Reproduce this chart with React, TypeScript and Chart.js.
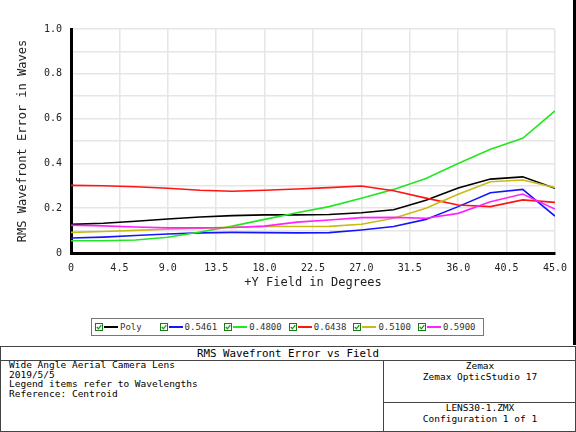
import React, { useEffect, useRef } from 'react';
import { Chart, registerables } from 'chart.js';
Chart.register(...registerables);

const fieldDeg = [0, 3, 6, 9, 12, 15, 18, 21, 24, 27, 30, 33, 36, 39, 42, 45];
const polyVals = [0.128, 0.133, 0.142, 0.152, 0.161, 0.167, 0.170, 0.170, 0.172, 0.180, 0.193, 0.235, 0.290, 0.330, 0.340, 0.289];
const w5461Vals = [0.067, 0.071, 0.078, 0.085, 0.090, 0.092, 0.091, 0.090, 0.091, 0.103, 0.118, 0.150, 0.207, 0.269, 0.284, 0.165];
const w4800Vals = [0.055, 0.055, 0.058, 0.070, 0.094, 0.120, 0.150, 0.180, 0.207, 0.244, 0.284, 0.333, 0.400, 0.463, 0.512, 0.634];
const w6438Vals = [0.302, 0.300, 0.296, 0.289, 0.280, 0.276, 0.280, 0.286, 0.292, 0.299, 0.278, 0.245, 0.214, 0.207, 0.237, 0.226];
const w5100Vals = [0.092, 0.096, 0.101, 0.106, 0.111, 0.115, 0.118, 0.118, 0.119, 0.128, 0.155, 0.200, 0.262, 0.318, 0.326, 0.292];
const w5900Vals = [0.124, 0.121, 0.116, 0.112, 0.112, 0.114, 0.120, 0.138, 0.147, 0.158, 0.159, 0.155, 0.177, 0.229, 0.263, 0.196];

const seriesLabels = ['Poly', '0.5461', '0.4800', '0.6438', '0.5100', '0.5900'];
const seriesValues = [polyVals, w5461Vals, w4800Vals, w6438Vals, w5100Vals, w5900Vals];
const seriesColors = ['#000000', '#1414ff', '#22e622', '#ff1414', '#c8bc14', '#ff22ff'];

const xAxisTitle = '+Y Field in Degrees';
const yAxisTitle = 'RMS Wavefront Error in Waves';
const plotTitle = 'RMS Wavefront Error vs Field';
const infoLeft = ['Wide Angle Aerial Camera Lens', '2019/5/5', 'Legend items refer to Wavelengths', 'Reference: Centroid'];
const infoRightTop = ['Zemax', 'Zemax OpticStudio 17'];
const infoRightBottom = ['LENS30-1.ZMX', 'Configuration 1 of 1'];

const MONO = "'DejaVu Sans Mono', monospace";

function CheckBox() {
  return (
    <svg width="8" height="8" style={{ display: 'block', flex: 'none' }}>
      <rect x="0.5" y="0.5" width="7" height="7" fill="#fff" stroke="#1a7a1a" strokeWidth="1" />
      <polyline points="1.8,4 3.4,5.8 6.3,2.2" fill="none" stroke="#1a9a1a" strokeWidth="1.3" />
    </svg>
  );
}

export default function App() {
  const canvasRef = useRef<HTMLCanvasElement | null>(null);

  useEffect(() => {
    document.body.style.margin = '0';
    const canvas = canvasRef.current;
    if (!canvas) return;
    const datasets = seriesLabels.map((label, i) => ({
      label,
      data: fieldDeg.map((x, j) => ({ x, y: seriesValues[i][j] })),
      borderColor: seriesColors[i],
      backgroundColor: seriesColors[i],
      borderWidth: 1.6,
      pointRadius: 0,
      tension: 0,
      fill: false,
    }));
    const chart = new Chart(canvas, {
      type: 'line',
      data: { datasets: datasets.slice().reverse() },
      options: {
        animation: false,
        responsive: false,
        layout: { padding: { top: 29, right: 21, bottom: 0, left: 0 } },
        plugins: { legend: { display: false }, tooltip: { enabled: false } },
        scales: {
          x: {
            type: 'linear',
            min: 0,
            max: 45,
            afterFit: (s: any) => { s.height = 47; },
            ticks: {
              stepSize: 4.5,
              autoSkip: false,
              maxRotation: 0,
              padding: 9,
              color: '#222',
              font: { family: MONO, size: 10 },
              callback: (v: any) => (Number(v) === 0 ? '0' : Number(v).toFixed(1)),
            },
            grid: { color: '#e6e6e6', lineWidth: 1.5, drawTicks: false },
            border: { display: true, color: '#000', width: 3 },
            title: {
              display: true,
              text: xAxisTitle,
              color: '#222',
              font: { family: MONO, size: 12 },
              padding: { top: 0, bottom: 10 },
            },
          },
          y: {
            type: 'linear',
            min: 0,
            max: 1,
            afterFit: (s: any) => { s.width = 71; },
            ticks: {
              stepSize: 0.1,
              autoSkip: false,
              padding: 9,
              color: '#222',
              font: { family: MONO, size: 10 },
              callback: (v: any) => {
                const n = Math.round(Number(v) * 10);
                if (n % 2 !== 0) return '';
                return n === 0 ? '0' : (n / 10).toFixed(1);
              },
            },
            grid: { color: '#e6e6e6', lineWidth: 1.5, drawTicks: false },
            border: { display: true, color: '#000', width: 3 },
            title: {
              display: true,
              text: yAxisTitle,
              color: '#222',
              font: { family: MONO, size: 12 },
              padding: { top: 16, bottom: 0 },
            },
          },
        },
      },
    });
    return () => chart.destroy();
  }, []);

  const textStyle: React.CSSProperties = { fontFamily: MONO, color: '#000', whiteSpace: 'pre' };

  return (
    <div style={{ position: 'fixed', left: 0, top: 0, width: 576, height: 432, background: '#fff', overflow: 'hidden' }}>
      <canvas ref={canvasRef} width={576} height={300} style={{ position: 'absolute', left: 0, top: 0 }} />
      <div style={{ position: 'absolute', left: 573, top: 0, width: 3, height: 345, background: '#000' }} />
      {/* Legend */}
      <div style={{ position: 'absolute', left: 91, top: 318, width: 391, height: 16, border: '1px solid #777', background: '#fff' }}>
        {seriesLabels.map((lab, i) => (
          <div key={lab} style={{ position: 'absolute', left: 3 + i * 64.6, top: 0, height: 16, display: 'flex', alignItems: 'center' }}>
            <CheckBox />
            <div style={{ width: 14, height: 2, background: seriesColors[i], marginLeft: 1, marginRight: 2, flex: 'none' }} />
            <span style={{ ...textStyle, fontSize: 9, color: '#333' }}>{lab}</span>
          </div>
        ))}
      </div>
      {/* Info panel */}
      <div style={{ position: 'absolute', left: 0, top: 346, width: 574, height: 84, border: '1px solid #444' }} />
      <div style={{ position: 'absolute', left: 0, top: 360, width: 576, height: 1, background: '#444' }} />
      <div style={{ position: 'absolute', left: 383, top: 360, width: 1, height: 72, background: '#444' }} />
      <div style={{ position: 'absolute', left: 383, top: 402, width: 193, height: 1, background: '#444' }} />
      <div style={{ ...textStyle, position: 'absolute', left: 0, top: 347, width: 576, height: 13, lineHeight: '13px', textAlign: 'center', fontSize: 10.8 }}>{plotTitle}</div>
      <div style={{ ...textStyle, position: 'absolute', left: 9, top: 360, fontSize: 9.5, lineHeight: '9.7px' }}>
        {infoLeft.map((t) => <div key={t}>{t}</div>)}
      </div>
      <div style={{ ...textStyle, position: 'absolute', left: 384, top: 360, width: 192, fontSize: 9.5, lineHeight: '11px', textAlign: 'center' }}>
        {infoRightTop.map((t) => <div key={t}>{t}</div>)}
      </div>
      <div style={{ ...textStyle, position: 'absolute', left: 384, top: 403, width: 192, fontSize: 9.5, lineHeight: '10.5px', textAlign: 'center' }}>
        {infoRightBottom.map((t) => <div key={t}>{t}</div>)}
      </div>
    </div>
  );
}
